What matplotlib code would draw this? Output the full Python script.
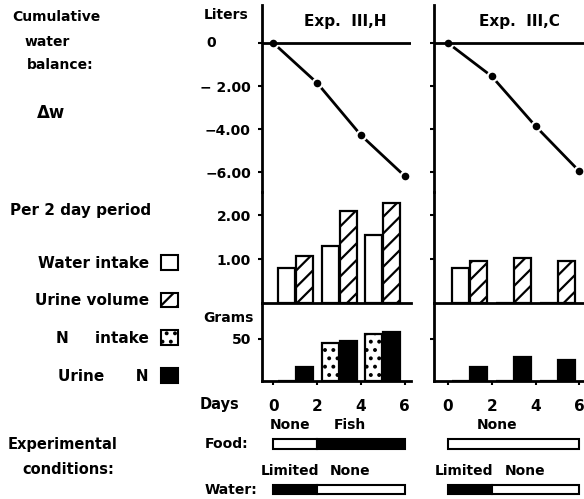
import numpy as np
import matplotlib
matplotlib.use('Agg')
import matplotlib.pyplot as plt
import matplotlib.transforms as mtrans
from matplotlib.patches import Patch

# Data
days = [0, 2, 4, 6]
cum_H = [0, -1.86, -4.29, -6.19]
cum_C = [0, -1.55, -3.87, -5.97]

periods = [1, 3, 5]
water_in_H = [0.79, 1.30, 1.55]
urine_vol_H = [1.06, 2.10, 2.29]
water_in_C = [0.79, 0, 0]
urine_vol_C = [0.96, 1.03, 0.96]

n_in_H = [0, 44.8, 55.1]
urine_n_H = [16.5, 47.2, 57.4]
n_in_C = [0, 0, 0]
urine_n_C = [16.5, 27.9, 24.6]

food_H = ['None', 'Fish']
food_H_from = [0, 2]
food_H_to = [2, 6]
water_H = ['Limited', 'None']
water_H_from = [0, 2]
water_H_to = [2, 6]
food_C = ['None']
food_C_from = [0]
food_C_to = [6]
water_C = ['Limited', 'None']
water_C_from = [0, 2]
water_C_to = [2, 6]

plt.rcParams['font.family'] = 'DejaVu Sans'
plt.rcParams['font.weight'] = 'bold'
plt.rcParams['font.size'] = 10
plt.rcParams['hatch.linewidth'] = 1.6

W, H = 584, 499
fig = plt.figure(figsize=(W / 100, H / 100), dpi=100)


def px_axes(x0, y0, x1, y1):
    # pixel box (from top-left) -> figure axes
    return fig.add_axes([x0 / W, 1 - y1 / H, (x1 - x0) / W, (y1 - y0) / H])


def style(ax, bottom=False):
    for s in ['top', 'right']:
        ax.spines[s].set_visible(False)
    ax.spines['left'].set_linewidth(2)
    ax.spines['bottom'].set_linewidth(2)
    ax.spines['bottom'].set_visible(bottom)
    ax.tick_params(direction='out', length=3, width=1.5, pad=5, labelsize=10)
    ax.set_facecolor('none')


fill = {'None': 'white', 'Fish': 'black', 'Limited': 'black'}
panels = [
    (262, -0.52, cum_H, water_in_H, urine_vol_H, n_in_H, urine_n_H,
     (food_H, food_H_from, food_H_to), (water_H, water_H_from, water_H_to), 'Exp.  III,H'),
    (434, -0.64, cum_C, water_in_C, urine_vol_C, n_in_C, urine_n_C,
     (food_C, food_C_from, food_C_to), (water_C, water_C_from, water_C_to), 'Exp.  III,C'),
]
pxday = 21.9
xmax = 6.3
bw = 0.78
off = 0.41

for i, (x0, xmin, cum, win, uvol, nin, un, food, water, title) in enumerate(panels):
    x1 = x0 + (xmax - xmin) * pxday

    # cumulative water balance
    ax1 = px_axes(x0, 5, x1, 192)
    style(ax1)
    ax1.plot(days, cum, color='black', lw=2, marker='o', ms=7, mfc='black',
             mec='white', mew=1.5, zorder=3)
    ax1.axhline(0, color='black', lw=2, zorder=4)
    ax1.set_xlim(xmin, xmax)
    ax1.set_ylim(-6.93, 1.77)
    ax1.set_yticks([0, -2, -4, -6])
    ax1.set_xticks([])
    ax1.text(0.56, 0.91, title, transform=ax1.transAxes, ha='center',
             va='center', fontsize=11)

    # liters per 2 day period
    ax2 = px_axes(x0, 192, x1, 303)
    style(ax2, bottom=True)
    p = np.array(periods)
    ax2.bar(p - off, win, width=bw, color='white', edgecolor='black', lw=1.6)
    ax2.bar(p + off, uvol, width=bw, color='white', edgecolor='black', lw=1.6,
            hatch='//')
    ax2.set_xlim(xmin, xmax)
    ax2.set_ylim(0, 2.53)
    ax2.set_yticks([1, 2])
    ax2.set_xticks([])

    # grams per 2 day period
    ax3 = px_axes(x0, 303, x1, 381)
    style(ax3, bottom=True)
    ax3.bar(p - off, nin, width=bw, color='white', edgecolor='black', lw=1.6,
            hatch='..')
    ax3.bar(p + off, un, width=bw, color='black', edgecolor='black', lw=1.6)
    ax3.set_xlim(xmin, xmax)
    ax3.set_ylim(0, 92)
    ax3.set_yticks([50])
    ax3.set_xticks(days)
    ax3.tick_params(axis='x', pad=10, labelsize=11)

    if i == 0:
        ax1.set_yticklabels(['', '\u2212 2.00', '\u22124.00', '\u22126.00'])
        ax2.set_yticklabels(['1.00', '2.00'])
        ax3.set_yticklabels(['50'])
        tr = mtrans.blended_transform_factory(fig.transFigure, ax1.transData)
        fig.text(211 / W, 0, '0', transform=tr, ha='center', va='center',
                 fontsize=10)
    else:
        for ax in (ax1, ax2, ax3):
            ax.set_yticklabels([])

    # experimental conditions
    ax4 = px_axes(x0, 415, x1, 499)
    ax4.set_xlim(xmin, xmax)
    ax4.set_ylim(-0.2, 1.63)
    ax4.axis('off')
    for row, (labels, starts, ends) in zip([1, 0], [food, water]):
        for lab, a, b in zip(labels, starts, ends):
            ax4.barh(row, b - a, left=a, height=0.2, color=fill[lab],
                     edgecolor='black', lw=1.5)
            ax4.text((a + b) / 2 - 0.25 * (b - a) / 2, row + 0.42, lab,
                     ha='center', va='center', fontsize=10)


# left hand labels
def ftext(x, y, s, size=10, **kw):
    fig.text(x / W, 1 - y / H, s, va='center', fontsize=size, **kw)


ftext(12, 17, 'Cumulative')
ftext(25, 42, 'water')
ftext(27, 65, 'balance:')
ftext(37, 113, '\u0394w', size=12)
ftext(226, 15, 'Liters', ha='center')
ftext(10, 211, 'Per 2 day period', size=11)
ftext(228, 318, 'Grams', ha='center')
ftext(200, 405, 'Days', size=10.5)
ftext(8, 444, 'Experimental', size=10.5)
ftext(22, 470, 'conditions:', size=10.5)
ftext(205, 444, 'Food:')
ftext(205, 490, 'Water:')

handles = [
    Patch(facecolor='white', edgecolor='black', lw=1.5),
    Patch(facecolor='white', edgecolor='black', lw=1.5, hatch='//'),
    Patch(facecolor='white', edgecolor='black', lw=1.5, hatch='..'),
    Patch(facecolor='black', edgecolor='black', lw=1.5),
]
leg_labels = ['Water intake', 'Urine volume', 'N     intake', 'Urine      N']
fig.legend(handles, leg_labels, loc='upper right',
           bbox_to_anchor=(178 / W, 1 - 255 / H), markerfirst=False,
           frameon=False, handlelength=1.1, handleheight=1.1,
           labelspacing=1.45, borderpad=0, borderaxespad=0,
           handletextpad=0.8, fontsize=11)

fig.savefig('out.png', dpi=100)
